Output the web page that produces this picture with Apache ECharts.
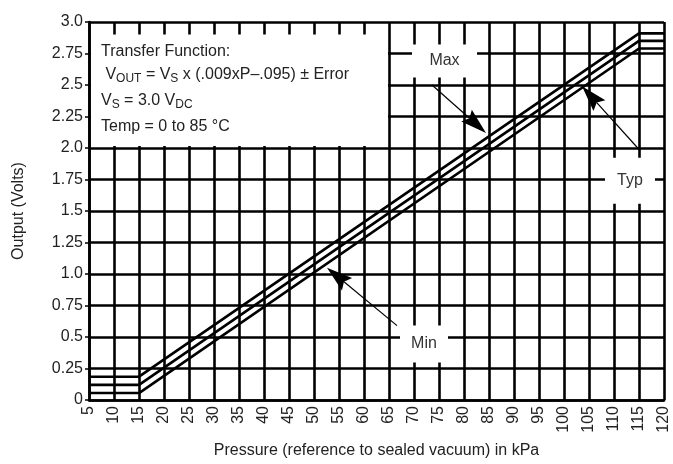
<!DOCTYPE html>
<html>
<head>
<meta charset="utf-8">
<script src="https://cdn.jsdelivr.net/npm/echarts@6/dist/echarts.min.js"></script>
<style>html,body{margin:0;padding:0;background:#fff}#c{width:673px;height:464px}</style>
</head>
<body>
<div id="c"></div>
<script>
// ---- data ----
const pressureKnots = [5, 15, 115, 120];
const maxOutput = [0.185, 0.185, 2.91, 2.91];
const typOutput = [0.12, 0.12, 2.85, 2.85];
const minOutput = [0.055, 0.055, 2.79, 2.79];
const xTickLabels = ['5','10','15','20','25','30','35','40','45','50','55','60','65','70','75','80','85','90','95','100','105','110','115','120'];
const yTickLabels = ['0','0.25','0.5','0.75','1.0','1.25','1.5','1.75','2.0','2.25','2.5','2.75','3.0'];
const seriesNames = ['Max', 'Typ', 'Min'];
// annotation anchors (data coordinates)
const arrowFrom = [[73.6, 2.50], [115.2, 1.98], [66.6, 0.59]];
const arrowTo = [[84.4, 2.12], [103.6, 2.49], [52.6, 1.05]];
const labelCenter = [[76.1, 2.69], [113.2, 1.74], [72.0, 0.445]];
const infoBoxCorners = [[5.4, 2.90], [64.8, 2.015]];

const FONT = "'Liberation Sans Narrow','Arial Narrow','Liberation Sans',sans-serif";
const TXT = '#222';

const chart = echarts.init(document.getElementById('c'), null, {renderer: 'canvas'});
const zip = (xs, ys) => xs.map((x, i) => [x, ys[i]]);
const lineSeries = (name, vals) => ({
  name, type: 'line', data: zip(pressureKnots, vals), symbol: 'none',
  lineStyle: {color: '#000', width: 2.6}, z: 5
});

chart.setOption({
  animation: false,
  backgroundColor: '#fff',
  grid: {left: 89, right: 9, top: 22, bottom: 61},
  xAxis: {
    type: 'value', min: 5, max: 120, interval: 5,
    name: 'Pressure (reference to sealed vacuum) in kPa',
    nameLocation: 'middle', nameGap: 43,
    nameTextStyle: {fontFamily: FONT, fontSize: 16, color: TXT},
    axisLine: {lineStyle: {color: '#000', width: 2.6}},
    axisTick: {show: false},
    splitLine: {show: true, lineStyle: {color: '#000', width: 2.6}},
    axisLabel: {
      rotate: 90, margin: 6, fontFamily: FONT, fontSize: 16, color: TXT,
      showMinLabel: true, showMaxLabel: true,
      formatter: v => xTickLabels[Math.round((v - 5) / 5)]
    }
  },
  yAxis: {
    type: 'value', min: 0, max: 3, interval: 0.25,
    name: 'Output (Volts)', nameLocation: 'middle', nameGap: 62,
    nameTextStyle: {fontFamily: FONT, fontSize: 16, color: TXT},
    axisLine: {lineStyle: {color: '#000', width: 2.6}},
    axisTick: {show: true, length: 4, lineStyle: {color: '#000', width: 1.5}},
    splitLine: {show: true, lineStyle: {color: '#000', width: 2.6}},
    axisLabel: {
      margin: 6, fontFamily: FONT, fontSize: 16, color: TXT,
      formatter: v => yTickLabels[Math.round(v / 0.25)]
    }
  },
  series: [
    lineSeries(seriesNames[0], maxOutput),
    lineSeries(seriesNames[1], typOutput),
    lineSeries(seriesNames[2], minOutput)
  ]
});

function px(p) { return chart.convertToPixel({gridIndex: 0}, p); }

const g = [];
// info box
const a = px(infoBoxCorners[0]), b = px(infoBoxCorners[1]);
g.push({type: 'rect', shape: {x: a[0], y: a[1], width: b[0] - a[0], height: b[1] - a[1]},
  style: {fill: '#fff'}, z: 10});
const rich = {
  n: {fontFamily: FONT, fontSize: 16, color: TXT, lineHeight: 20},
  s: {fontFamily: FONT, fontSize: 12, color: TXT, lineHeight: 20, verticalAlign: 'bottom'}
};
const infoLines = [
  '{n|Transfer Function:}',
  '{n| V}{s|OUT}{n| = V}{s|S}{n| x (.009xP\u2013.095) \u00b1 Error}',
  '{n|V}{s|S}{n| = 3.0 V}{s|DC}',
  '{n|Temp = 0 to 85 \u00b0C}'
];
const infoY = [52, 75, 101, 127];
infoLines.forEach((t, i) => {
  g.push({type: 'text', x: a[0] + 10, y: infoY[i] - 10, z: 11,
    style: {text: t, rich, fill: TXT, verticalAlign: 'top'}});
});

// labels + arrows
const boxSize = [[65, 33], [50, 46], [48, 37]];
seriesNames.forEach((nm, i) => {
  const c = px(labelCenter[i]);
  g.push({type: 'rect', shape: {x: c[0] - boxSize[i][0] / 2, y: c[1] - boxSize[i][1] / 2,
    width: boxSize[i][0], height: boxSize[i][1]}, style: {fill: '#fff'}, z: 10});
  g.push({type: 'text', x: c[0], y: c[1], z: 11,
    style: {text: nm, fontFamily: FONT, fontSize: 16, fill: '#333', align: 'center', verticalAlign: 'middle'}});
  const s = px(arrowFrom[i]), t = px(arrowTo[i]);
  const dx = t[0] - s[0], dy = t[1] - s[1], L = Math.hypot(dx, dy);
  const ux = dx / L, uy = dy / L, hl = 26, hw = 8;
  const bx = t[0] - ux * hl, by = t[1] - uy * hl;
  g.push({type: 'line', shape: {x1: s[0], y1: s[1], x2: bx + ux * 4, y2: by + uy * 4},
    style: {stroke: '#000', lineWidth: 1.2}, z: 12});
  g.push({type: 'polygon', shape: {points: [[t[0], t[1]], [bx - uy * hw, by + ux * hw], [bx + ux * 4, by + uy * 4], [bx + uy * hw, by - ux * hw]]},
    style: {fill: '#000'}, z: 12});
});
chart.setOption({graphic: g});
</script>
</body>
</html>
